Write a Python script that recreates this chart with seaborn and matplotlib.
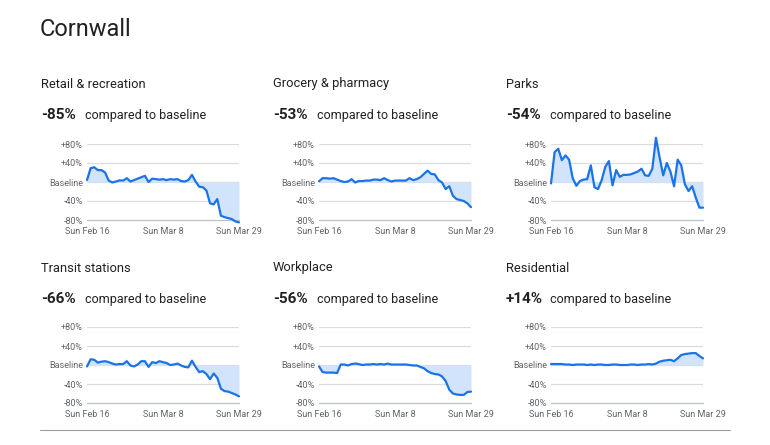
import numpy as np
import pandas as pd
import matplotlib
matplotlib.use("Agg")
import matplotlib.pyplot as plt
import seaborn as sns

# daily values, Sun Feb 16 .. Sun Mar 29 (43 days), % change vs baseline
dates = pd.date_range("2020-02-16", "2020-03-29", freq="D")

retail = [4, 29, 31, 25, 25, 20, 3, -1, 1, 3.5, 3, 8, 1, 4, 7, 10, 13, 0, 7, 6, 5, 6,
          4, 6, 5, 6, 2, 1, 4, 15, 1, -10, -11, -18, -45, -47, -36, -71, -74, -76, -78, -83, -85]
grocery = [1.5, 8, 8, 7, 8, 5, 2, 0, 1, 6, -1, 2, 2, 3, 3, 5, 5, 4, 8, 4, 1, 3,
           3, 3, 3, 8, 4, 6, 10, 17, 24, 17, 16, 4, -1, -15, -9, -29, -36, -38, -40, -45, -53]
parks = [-3, 63, 70, 46, 56, 47, 8, -8, 2, 5, 6, 35, -11, -15, 4, 32, 44, -7, 25, 11, 15, 15,
         16, 19, 22, 28, 14, 13, 28, 93, 52, 14, 40, 22, -9, 47, 35, -5, -19, -9, -33, -54, -54]
transit = [-3, 12, 11, 5, 7, 8, 6, 3, 1, 2, 2, 8, -1, -3, 1, 8, 8, -4, 6, 4, 8, 6,
           4, 0, 1, 3, -1, -4, -5, 9, -4, -15, -13, -19, -30, -18, -27, -50, -55, -56, -59, -62, -66]
workplace = [-3, -15, -16, -16, -16, -17, 1, 1, -1, 2, 3, 2, 0, 1, 1, 2, 1, 2, 1, 3, 1, 1,
             1, 1, 1, 0, -1, -1, -4, -7, -13, -17, -19, -20, -24, -34, -52, -60, -62, -63, -63, -57, -56]
residential = [2, 2, 2, 2, 1, 1, 0, 1, 1, 1, 0, 1, 0, 1, 1, 0, 0, 1, 1, 0, 0, 0,
               1, 1, 0, 1, 1, 2, 1, 3, 7, 9, 10, 11, 8, 14, 21, 23, 24, 25, 25, 19, 14]

titles = ["Retail & recreation", "Grocery & pharmacy", "Parks",
          "Transit stations", "Workplace", "Residential"]
headline = ["-85%", "-53%", "-54%", "-66%", "-56%", "+14%"]
series = [retail, grocery, parks, transit, workplace, residential]

ytick_vals = [-80, -40, 0, 40, 80]
ytick_labels = ["-80%", "-40%", "Baseline", "+40%", "+80%"]

sns.set_style("white")
plt.rcParams["font.family"] = ["Roboto", "DejaVu Sans"]

TEXT = "#202124"
GREY = "#5f6368"
GRID = "#dadce0"
LINE = "#1a73e8"
FILL = "#d2e3fc"

W, H = 770, 445
fig = plt.figure(figsize=(W / 100, H / 100), dpi=100)
fig.patch.set_facecolor("white")

fig.text(40 / W, 1 - 29 / H, "Cornwall", fontsize=17, color=TEXT, va="center", ha="left")

col_x = [41, 273, 506]
row_y = [84, 268]          # panel title y (px from top)
ax_left = [87, 319, 551]
ax_top = [144, 327]
ax_w, ax_h = 152, 76

for i in range(6):
    r, c = divmod(i, 3)
    tx = col_x[c] / W
    fig.text(tx, 1 - row_y[r] / H, titles[i], fontsize=9.3, color=TEXT, va="center")
    fig.text(tx, 1 - (row_y[r] + 31) / H, headline[i], fontsize=11, weight="bold",
             color=TEXT, va="center")
    fig.text((col_x[c] + 44) / W, 1 - (row_y[r] + 31) / H, "compared to baseline",
             fontsize=9, color=TEXT, va="center")

    ax = fig.add_axes([ax_left[c] / W, 1 - (ax_top[r] + ax_h) / H, ax_w / W, ax_h / H])
    df = pd.DataFrame({"day": np.arange(len(dates)), "value": series[i]})
    ax.fill_between(df["day"], df["value"], 0, color=FILL, lw=0, zorder=1)
    sns.lineplot(data=df, x="day", y="value", ax=ax, color=LINE, lw=1.6, zorder=3)
    for ln in ax.lines:
        ln.set_clip_on(False)

    ax.set_xlim(0, len(dates) - 1)
    ax.set_ylim(-80, 80)
    for v in ytick_vals[1:]:
        ax.axhline(v, color=GRID, lw=0.9, zorder=0)
    ax.set_yticks(ytick_vals)
    ax.set_yticklabels(ytick_labels)
    xt = list(range(0, len(dates), 7))
    ax.set_xticks(xt)
    ax.set_xticklabels([dates[d].strftime("Sun %b %-d") if d in (0, 21, 42) else "" for d in xt])
    ax.tick_params(axis="y", length=0, labelsize=6.5, labelcolor=GREY, pad=3)
    ax.tick_params(axis="x", length=4, width=0.8, color=GRID, labelsize=6.5,
                   labelcolor=GREY, pad=1)
    ax.set_xlabel("")
    ax.set_ylabel("")
    for s in ["top", "right", "left"]:
        ax.spines[s].set_visible(False)
    ax.spines["bottom"].set_color("#bdc1c6")
    ax.spines["bottom"].set_linewidth(0.9)

fig.add_artist(plt.Line2D([40 / W, 730 / W], [1 - 430 / H, 1 - 430 / H],
                          color="#9aa0a6", lw=0.8))

fig.savefig("out.png", dpi=100, facecolor="white")
